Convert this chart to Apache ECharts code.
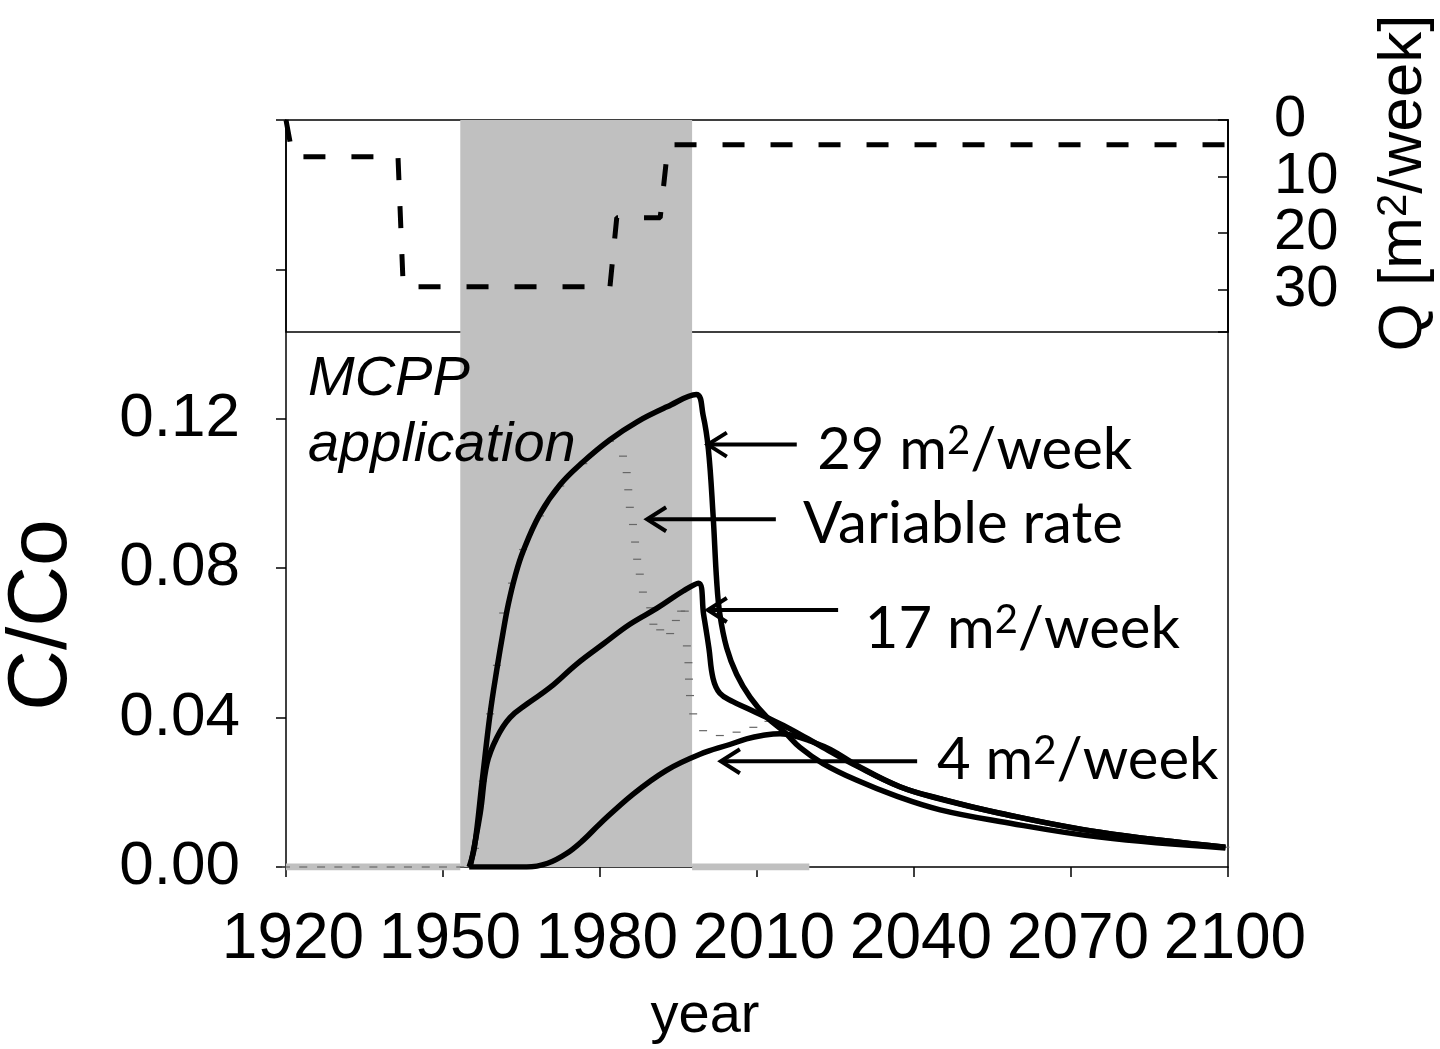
<!DOCTYPE html>
<html>
<head>
<meta charset="utf-8">
<script src="https://cdn.jsdelivr.net/npm/echarts/dist/echarts.min.js"></script>
<style>
  html, body { margin: 0; background: #fff; }
  #chart { width: 1440px; height: 1049px; }
</style>
</head>
<body>
<div id="chart"></div>
<script>
// 施用速率 Q (上方小图)
const qYears = [1920, 1921.3, 1941.4, 1942.4, 1981.9, 1983.2, 1991.5, 1993, 2100]
const qRate = [0, 6.5, 6.5, 29.5, 29.5, 17.3, 17.3, 4.4, 4.4]
const qTicks = [0, 10, 20, 30]

// 29 m2/week
const yr29 = [1955, 1956, 1957.5, 1959, 1960.3, 1961.5, 1962.5, 1963.8, 1965.3, 1968.5, 1972.4, 1976.8, 1981.9, 1987.1, 1992.8, 1998.4,
  1999.7, 2000.7, 2001.6, 2002.3, 2002.9, 2004.2, 2006.1, 2008.7, 2011.9, 2015.2, 2018.2, 2022.6, 2029.1, 2036.8, 2045, 2056.4, 2075.5, 2099.5]
const c29 = [0, 0.0053, 0.0232, 0.041, 0.053, 0.063, 0.0705, 0.078, 0.0845, 0.0944, 0.1024, 0.1085, 0.1144, 0.1192, 0.1232, 0.1265,
  0.121, 0.112, 0.0944, 0.0765, 0.0677, 0.0587, 0.0516, 0.0454, 0.0401, 0.0362, 0.032, 0.0277, 0.0232, 0.0189, 0.0153, 0.0122, 0.008, 0.0051]

// 17 m2/week
const yr17 = [1955.2, 1957.1, 1958.4, 1960.3, 1962.8, 1966.1, 1970.4, 1975.6, 1980.6, 1985.7, 1990.9, 1995.9, 1998.8,
  1999.8, 2000.8, 2001.6, 2002.9, 2005.4, 2008.1, 2011.9, 2016.3, 2022, 2029.1, 2037.3, 2045, 2056.4, 2075.5, 2099.5]
const c17 = [0, 0.0143, 0.0277, 0.0347, 0.04, 0.0437, 0.048, 0.0544, 0.0597, 0.065, 0.0693, 0.0739, 0.076,
  0.0676, 0.0587, 0.0505, 0.0465, 0.0443, 0.0425, 0.04, 0.037, 0.0325, 0.027, 0.0215, 0.0182, 0.0144, 0.0093, 0.0053]

// 4 m2/week
const yr4 = [1955, 1966, 1970, 1973.6, 1976.8, 1980, 1986.4, 1992.7, 1999.1, 2004.8, 2008, 2011, 2014.4, 2017, 2020, 2024,
  2029.1, 2037.3, 2045, 2056.4, 2075.5, 2099.5]
const c4 = [0, 0, 0.001, 0.0036, 0.0072, 0.0116, 0.0196, 0.0259, 0.0302, 0.0328, 0.0343, 0.0352, 0.0357, 0.0352, 0.0338, 0.0315,
  0.0272, 0.0215, 0.0183, 0.0144, 0.0093, 0.0053]

// Variable rate (只有小标记)
const yrVar = [1920, 1923.3, 1926.7, 1930, 1933.3, 1936.7, 1940, 1943.3, 1946.7, 1950, 1953.3, 1956.1, 1957.6, 1959, 1960.3, 1961.5,
  1963.2, 1965.3, 1968.5, 1972.4, 1976.8, 1981.9, 1984.4, 1985.1, 1985.4, 1985.7, 1986.3, 1986.7, 1987.1, 1987.6, 1988.2, 1989.6,
  1990.2, 1991.5, 1993.4, 1994.5, 1995.5, 1996.2, 1996.6, 1996.9, 1997, 1997.2, 1997.8, 1999.7, 2002.9, 2006.1, 2009.3, 2012.2,
  2016.3, 2022, 2029.1, 2037.3, 2045, 2056.4, 2075.5, 2099.5]
const cVar = [0, 0, 0, 0, 0, 0, 0, 0, 0, 0, 0, 0.005, 0.023, 0.041, 0.054, 0.068,
  0.076, 0.085, 0.094, 0.102, 0.108, 0.114, 0.11, 0.1056, 0.101, 0.0963, 0.0917, 0.087, 0.0824, 0.0784, 0.0736, 0.0694,
  0.065, 0.0635, 0.0625, 0.066, 0.0685, 0.0685, 0.0592, 0.0547, 0.0503, 0.0459, 0.041, 0.0365, 0.0352, 0.0361, 0.0374, 0.039,
  0.037, 0.0325, 0.027, 0.0215, 0.0183, 0.0144, 0.0093, 0.0053]

// MCPP application 时段 (灰色阴影) 和底部灰线
const shadeYears = [1953.3, 1997.6]
const greyBaseYears = [1920, 1953.3, 1997.6, 2020]

// 标注
const annoLabels = ['29 m{s|2}/week', 'Variable rate', '17 m{s|2}/week', '4 m{s|2}/week']
const annoTextAt = [[2021.5, 0.1117], [2018.8, 0.0917], [2030.6, 0.0637], [2044.4, 0.0285]]
const arrowTip = [[2000.6, 0.1131], [1989.0, 0.0931], [2000.6, 0.0688], [2003.1, 0.0283]]
const arrowTail = [[2017.6, 0.1131], [2013.6, 0.0931], [2025.5, 0.0688], [2040.6, 0.0283]]
const mcppAt = [1924.2, 0.1395]

const FONT = '"Liberation Sans", Arial, sans-serif'
const zip = (xs, ys) => xs.map((x, i) => [x, ys[i]])

const chart = echarts.init(document.getElementById('chart'))

const curve = (name, xs, ys) => ({
  name: name,
  type: 'line',
  xAxisIndex: 0,
  yAxisIndex: 0,
  data: zip(xs, ys),
  smooth: 0.4,
  showSymbol: false,
  lineStyle: { color: '#000', width: 5.5 },
  z: 4
})

const option = {
  animation: false,
  backgroundColor: '#fff',
  grid: [
    { left: 286, right: 212, top: 120, bottom: 182 },
    { left: 286, right: 212, top: 120, height: 212, show: true, borderColor: '#000', borderWidth: 1.5, backgroundColor: 'transparent' }
  ],
  xAxis: [
    {
      gridIndex: 0, type: 'value', min: 1920, max: 2100, interval: 30,
      axisLine: { lineStyle: { color: '#000', width: 1.5 } },
      axisTick: { length: 10, lineStyle: { color: '#000', width: 1.5 } },
      axisLabel: { color: '#000', fontSize: 64, fontFamily: FONT, margin: 41, padding: [0, 0, 0, 14], formatter: v => String(v) },
      splitLine: { show: false }
    },
    { gridIndex: 1, type: 'value', min: 1920, max: 2100, show: false }
  ],
  yAxis: [
    {
      gridIndex: 0, type: 'value', min: 0, max: 0.2, interval: 0.04,
      axisLine: { show: true, lineStyle: { color: '#000', width: 1.5 } },
      axisTick: { show: true, length: 10, lineStyle: { color: '#000', width: 1.5 } },
      axisLabel: {
        color: '#000', fontSize: 62, fontFamily: FONT, margin: 46,
        formatter: v => (v <= 0.121 ? v.toFixed(2) : '')
      },
      splitLine: { show: false }
    },
    {
      gridIndex: 1, type: 'value', position: 'right', inverse: true, min: 0, max: 37.5, interval: 10,
      axisLine: { show: true, lineStyle: { color: '#000', width: 1.5 } },
      axisTick: { show: true, inside: true, length: 10, lineStyle: { color: '#000', width: 1.5 } },
      axisLabel: { show: false },
      splitLine: { show: false }
    },
    {
      gridIndex: 0, type: 'value', position: 'right', min: 0, max: 0.2,
      axisLine: { show: true, lineStyle: { color: '#000', width: 1.5 } },
      axisTick: { show: false },
      axisLabel: { show: false },
      splitLine: { show: false }
    }
  ],
  series: [
    {
      name: 'grey base',
      type: 'line',
      xAxisIndex: 0,
      yAxisIndex: 0,
      data: [[greyBaseYears[0], 0], [greyBaseYears[1], 0], [1975, '-'], [greyBaseYears[2], 0], [greyBaseYears[3], 0]],
      showSymbol: false,
      lineStyle: { color: '#c0c0c0', width: 7 },
      z: 2,
      markArea: {
        silent: true,
        itemStyle: { color: '#c0c0c0' },
        data: [[{ xAxis: shadeYears[0] }, { xAxis: shadeYears[1] }]]
      }
    },
    {
      name: 'Variable rate',
      type: 'line',
      xAxisIndex: 0,
      yAxisIndex: 0,
      data: zip(yrVar, cVar),
      symbol: 'rect',
      symbolSize: [8, 1.2],
      itemStyle: { color: '#666' },
      lineStyle: { opacity: 0 },
      z: 3
    },
    curve('4 m2/week', yr4, c4),
    curve('17 m2/week', yr17, c17),
    curve('29 m2/week', yr29, c29),
    {
      name: 'Q',
      type: 'line',
      xAxisIndex: 1,
      yAxisIndex: 1,
      data: zip(qYears, qRate),
      showSymbol: false,
      lineStyle: { color: '#000', width: 5, type: [22, 26] },
      z: 5
    }
  ]
}
chart.setOption(option)

// 标注: 箭头和文字
const px = p => chart.convertToPixel({ xAxisIndex: 0, yAxisIndex: 0 }, p)
const annoFont = 'Lato, "Open Sans", sans-serif'
const graphics = []
annoLabels.forEach((label, i) => {
  const t = px(annoTextAt[i])
  const tip = px(arrowTip[i])
  const tail = px(arrowTail[i])
  graphics.push({
    type: 'text', x: t[0], y: t[1], z: 10,
    style: {
      text: label, fontSize: 58, fontFamily: annoFont, fill: '#000', align: 'left', verticalAlign: 'middle',
      rich: { s: { fontSize: 40, fontFamily: annoFont, fill: '#000', verticalAlign: 'top', lineHeight: 40 } }
    }
  })
  graphics.push({
    type: 'line', z: 10,
    shape: { x1: tip[0] + 2, y1: tip[1], x2: tail[0], y2: tail[1] },
    style: { stroke: '#000', lineWidth: 4 }
  })
  graphics.push({
    type: 'polyline', z: 10,
    shape: { points: [[tip[0] + 19, tip[1] - 12], [tip[0], tip[1]], [tip[0] + 19, tip[1] + 12]] },
    style: { stroke: '#000', lineWidth: 4, fill: null }
  })
})
// Q 轴刻度文字
qTicks.forEach(v => {
  const p = chart.convertToPixel({ xAxisIndex: 1, yAxisIndex: 1 }, [2100, v])
  graphics.push({
    type: 'text', x: p[0] + 46, y: p[1], z: 10,
    style: { text: String(v), fontSize: 58, fontFamily: FONT, fill: '#000', align: 'left', verticalAlign: 'middle' }
  })
})
const m = px(mcppAt)
graphics.push({
  type: 'text', x: m[0], y: m[1], z: 10,
  style: { text: 'MCPP\napplication', fontSize: 56, fontStyle: 'italic', fontFamily: FONT, lineHeight: 66, fill: '#000', align: 'left', verticalAlign: 'top' }
})
// 坐标轴名称
graphics.push({
  type: 'text', x: 43, y: 615, rotation: Math.PI / 2, z: 10,
  style: { text: 'C/Co', fontSize: 84, fontFamily: FONT, fill: '#000', align: 'center', verticalAlign: 'middle' }
})
graphics.push({
  type: 'text', x: 705, y: 1017, z: 10,
  style: { text: 'year', fontSize: 56, fontFamily: FONT, fill: '#000', align: 'center', verticalAlign: 'middle' }
})
graphics.push({
  type: 'text', x: 1404, y: 183, rotation: Math.PI / 2, z: 10,
  style: {
    text: 'Q [m{s|2}/week]', fontSize: 62, fontFamily: FONT, fill: '#000', align: 'center', verticalAlign: 'middle',
    rich: { s: { fontSize: 42, fontFamily: FONT, fill: '#000', verticalAlign: 'top', lineHeight: 44 } }
  }
})
chart.setOption({ graphic: graphics })
</script>
</body>
</html>
